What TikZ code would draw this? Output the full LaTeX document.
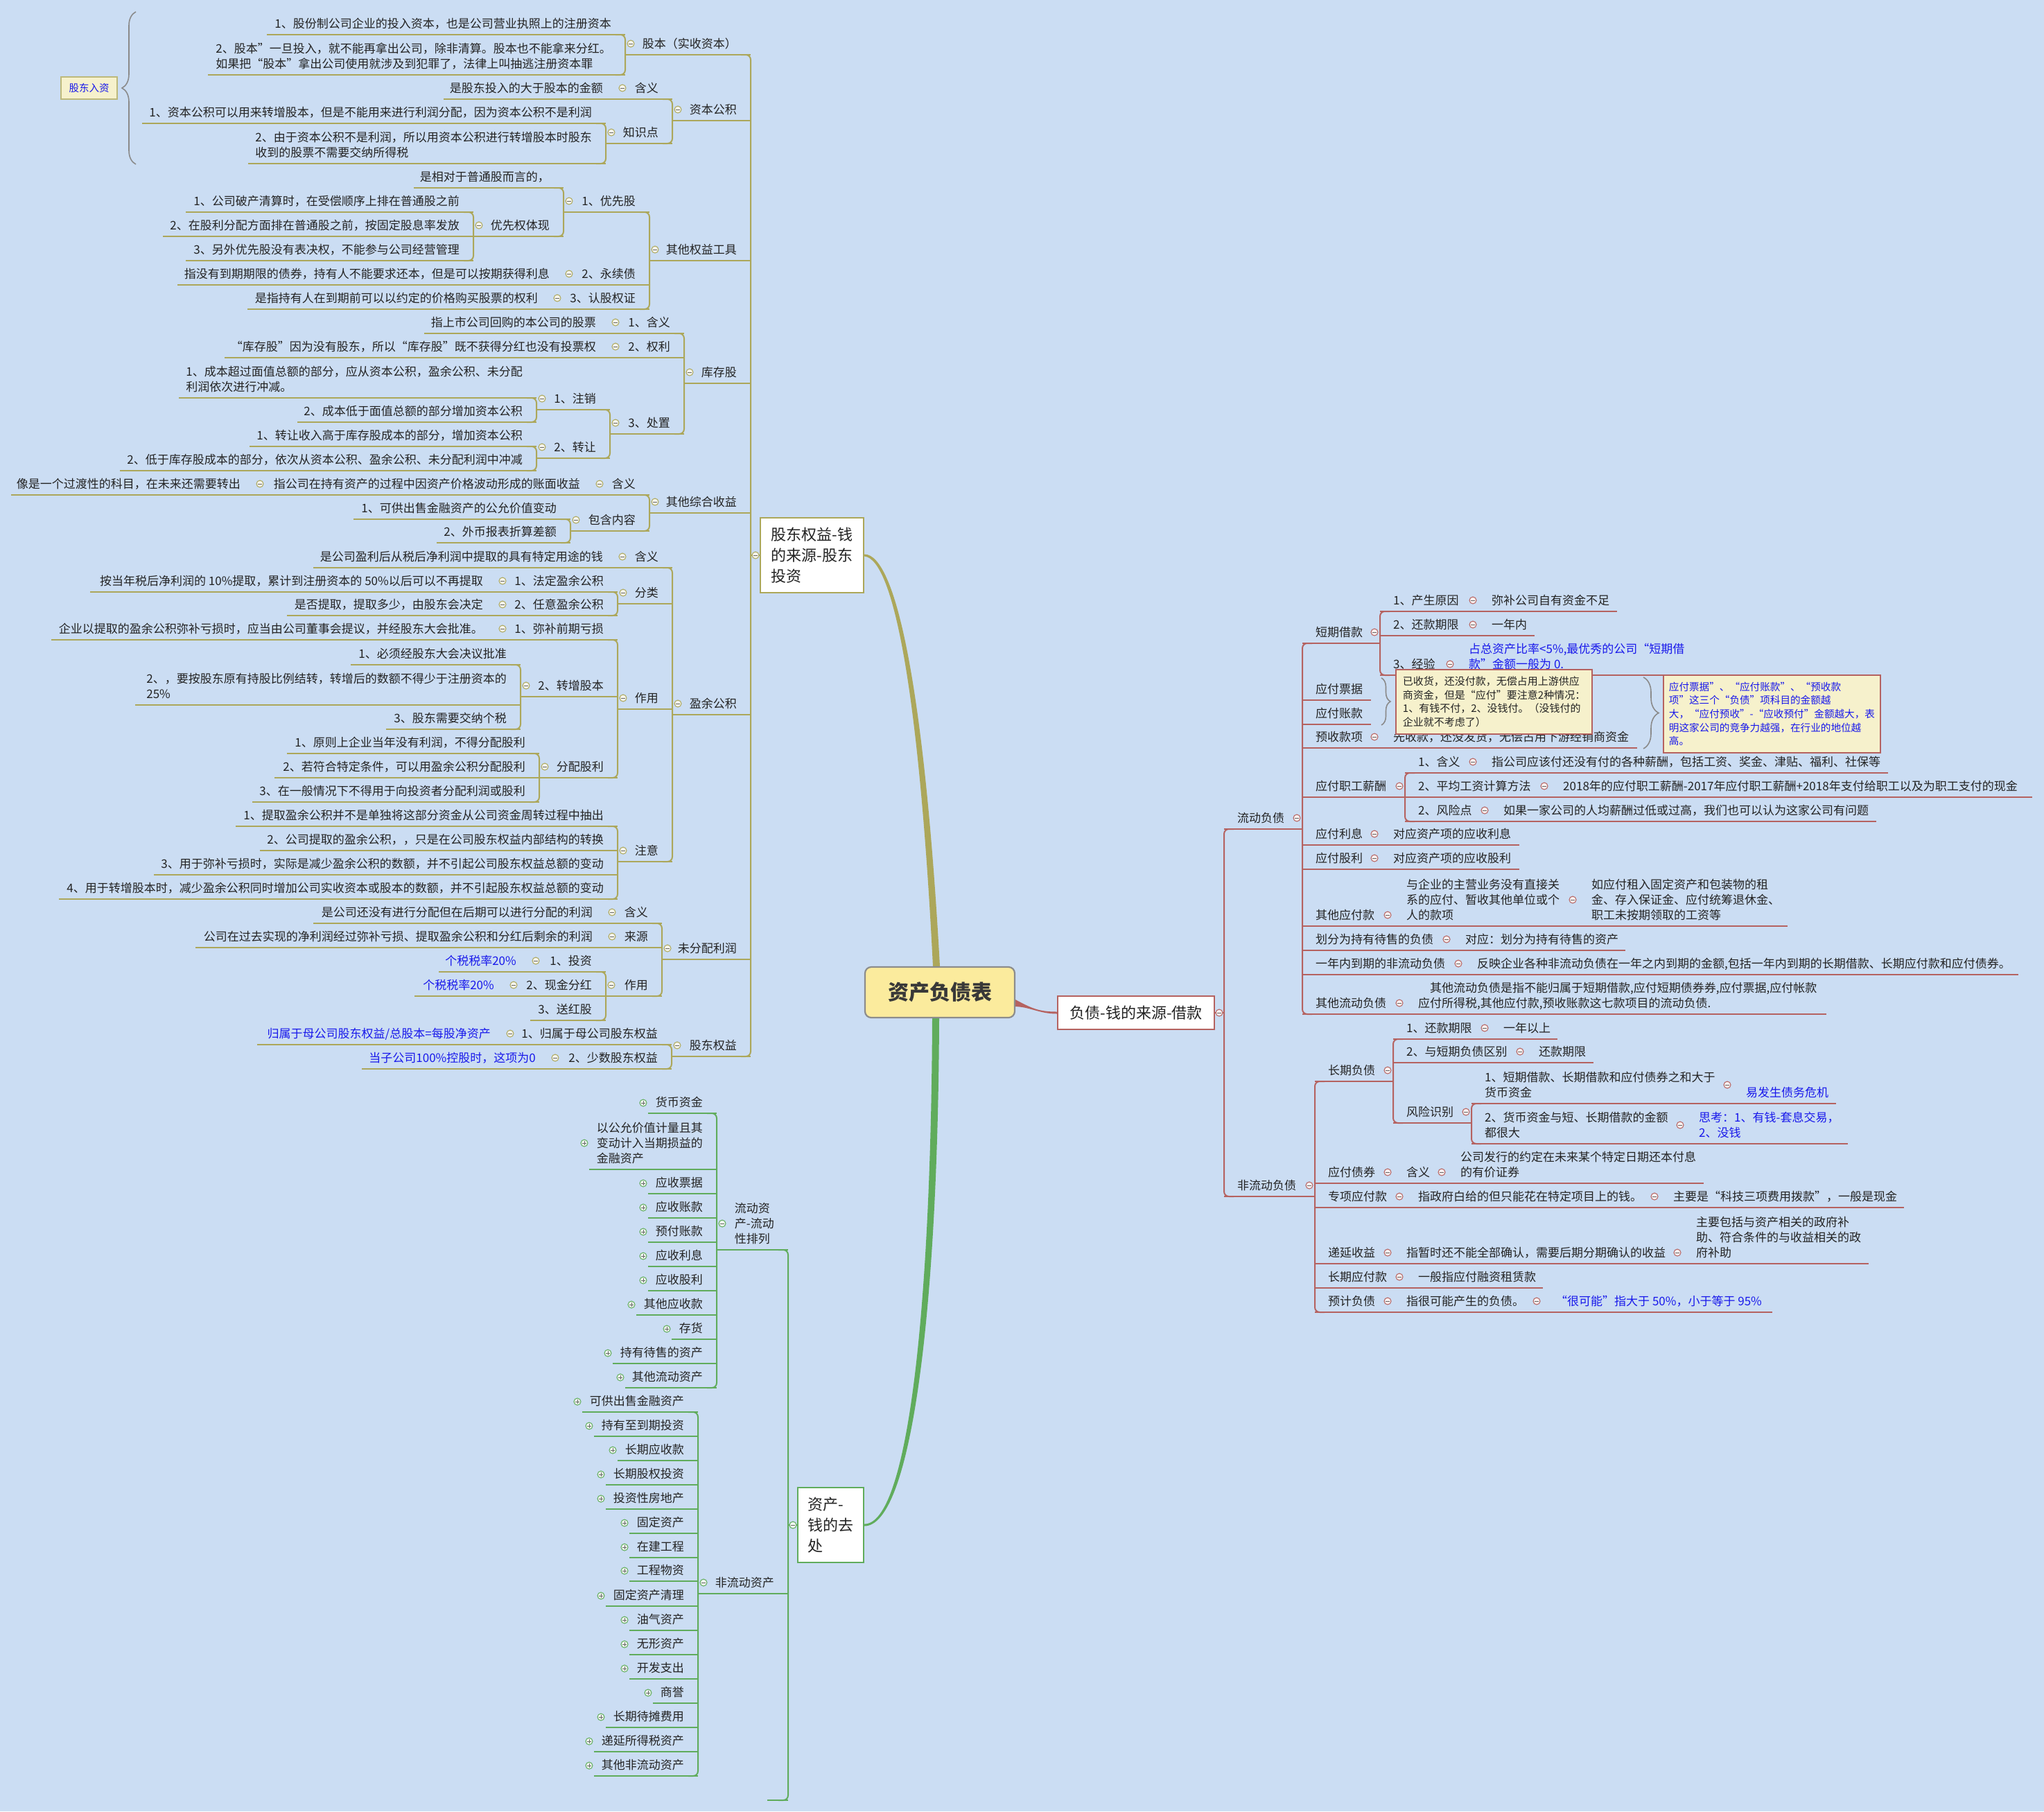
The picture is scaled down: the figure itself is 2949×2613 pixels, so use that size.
\documentclass[tikz,border=0pt]{standalone}
\usepackage{fontspec}
\setmainfont{Noto Sans CJK SC}
\usetikzlibrary{calc,decorations.pathreplacing,backgrounds}

\definecolor{bg}{RGB}{203,221,243}
\definecolor{olv}{RGB}{172,167,90}
\definecolor{rbr}{RGB}{181,98,96}
\definecolor{grn}{RGB}{96,172,92}
\definecolor{ink}{RGB}{35,35,35}
\definecolor{blu}{RGB}{25,25,235}
\definecolor{cream}{RGB}{246,241,204}
\definecolor{gry}{RGB}{138,138,138}
\definecolor{rootfill}{RGB}{251,235,157}

\tikzset{
  tx/.style={inner sep=0pt, align=left, font=\fontsize{17}{22}\selectfont, execute at end node=\strut},
  ul/.style={line width=2pt, draw=olv},
  mk/.style={line width=1pt, draw=olv, fill=olv!12!white},
  mkl/.style={line width=1pt, draw=black!60},
  brc/.style={draw=gry, line width=1.6pt, decorate, decoration={brace, amplitude=#1}},
  topic/.style={draw=#1, fill=white, line width=2.2pt, inner sep=0pt, align=left,
    font=\fontsize{22}{30}\selectfont, text=ink},
  note/.style={fill=cream, draw=rbr, line width=1.8pt, inner xsep=10pt, inner ysep=0pt,
    align=left, anchor=north west, font=\fontsize{15}{19.7}\selectfont},
}

% collapse markers
\newcommand\Mk[2]{\filldraw[mk] (#1,#2) circle[radius=5pt];
  \draw[mkl] (#1-2.6,#2) -- (#1+2.6,#2);}
\newcommand\Mkp[2]{\Mk{#1}{#2}\draw[mkl] (#1,#2-2.6) -- (#1,#2+2.6);}
% topic growing to the left: underline from xL to xR, text right-aligned above it
\newcommand\Lt[6][ink]{%
  \coordinate (#2-l) at (#3,#5);
  \coordinate (#2-r) at (#4,#5);
  \draw[ul] (#2-l) -- (#2-r);
  \node[tx, text=#1, anchor=south east] (#2) at (#4-20,#5-3) {#6};}
\newcommand\Ltm[6][ink]{\Lt[#1]{#2}{#3}{#4}{#5}{#6}\Mk{#3+8}{#5-16}}
% topic growing to the right
\newcommand\Rt[6][ink]{%
  \coordinate (#2-l) at (#3,#5);
  \coordinate (#2-r) at (#4,#5);
  \draw[ul] (#2-l) -- (#2-r);
  \node[tx, text=#1, anchor=south west] (#2) at (#3+19,#5-3) {#6};}
\newcommand\Rtm[6][ink]{\Rt[#1]{#2}{#3}{#4}{#5}{#6}\Mk{#4-8}{#5-16}}
% collapsed leaf (plus marker)
\newcommand\At[5]{\Lt{#1}{#2}{#3}{#4}{#5}\Mkp{#2-7}{#4-15}}
% sibling brackets
\newcommand\Lbr[2]{\draw[ul, rounded corners=7pt] ($(#1)+(-14,0)$) -- (#1) -- (#2) -- ($(#2)+(-14,0)$);}
\newcommand\Rbr[2]{\draw[ul, rounded corners=7pt] ($(#1)+(14,0)$) -- (#1) -- (#2) -- ($(#2)+(14,0)$);}

\begin{document}
\begin{tikzpicture}[x=1pt,y=-1pt]
\useasboundingbox (0,0) rectangle (2949,2613);

% ---------- main topics ----------
\node[draw=black!45, fill=rootfill, rounded corners=9pt, line width=2.2pt, minimum width=216pt,
  minimum height=73pt, inner sep=0pt, font=\fontsize{30}{36}\selectfont\bfseries, text=black!78]
  (root) at (1356,1431.5) {资产负债表};
\node[topic=olv, minimum width=149pt, minimum height=108pt] (eq) at (1171.5,801) {股东权益-钱\\的来源-股东\\投资};
\node[topic=rbr, minimum width=226pt, minimum height=48pt] (fz) at (1639,1461) {负债-钱的来源-借款};
\node[topic=grn, minimum width=95pt, minimum height=108pt] (zc) at (1198.5,2200) {资产-\\钱的去\\处};

\begin{scope}[on background layer]
  \fill[bg] (0,0) rectangle (2949,2613);
  % tapered main branches
  \fill[olv] ($(eq.east)+(0,-1.5)$) .. controls +(46,0) and +(-22,-396) .. ($(root.north)+(0,0)$)
    -- ($(root.north)+(-10,0)$) .. controls +(-20,-396) and +(42,4) .. ($(eq.east)+(0,1.5)$) -- cycle;
  \fill[grn] ($(root.south)+(-1,0)$) .. controls +(-2,437) and +(66,0) .. ($(zc.east)+(0,1.5)$)
    -- ($(zc.east)+(0,-1.5)$) .. controls +(62,0) and +(-2,427) .. ($(root.south)+(-11,0)$) -- cycle;
  \fill[rbr] ($(root.east)+(-2,9.5)$) .. controls +(26,14) and +(-26,0) .. ($(fz.west)+(0,-1.5)$)
    -- ($(fz.west)+(0,1.5)$) .. controls +(-26,0) and +(22,0) .. ($(root.east)+(-2,20.5)$) -- cycle;
\end{scope}

% ================= equity (left) =================
\Ltm{gb}{902}{1083}{79}{股本（实收资本）}
\Lt{gba}{385}{902}{50}{1、股份制公司企业的投入资本，也是公司营业执照上的注册资本}
\Lt{gbb}{300}{902}{108}{2、股本”一旦投入，就不能再拿出公司，除非清算。股本也不能拿来分红。\\如果把“股本”拿出公司使用就涉及到犯罪了，法律上叫抽逃注册资本罪}
\Lbr{gba-r}{gbb-r}

\Ltm{zb}{970}{1083}{174}{资本公积}
\Ltm{zb1}{890}{970}{143}{含义}
\Lt{zb1a}{640}{890}{143}{是股东投入的大于股本的金额}
\Ltm{zb2}{874}{970}{207}{知识点}
\Lt{zb2a}{205}{874}{178}{1、资本公积可以用来转增股本，但是不能用来进行利润分配，因为资本公积不是利润}
\Lt{zb2b}{358}{874}{236}{2、由于资本公积不是利润，所以用资本公积进行转增股本时股东\\收到的股票不需要交纳所得税}
\Lbr{zb2a-r}{zb2b-r}
\Lbr{zb1-r}{zb2-r}

\node[draw=olv!80!white, fill=cream, line width=1.8pt, minimum width=81pt, minimum height=32pt,
  inner sep=0pt, text=blu, font=\fontsize{14.5}{18}\selectfont] (grz) at (128.5,127) {股东入资};
\draw[brc=20pt] (196,237) -- (196,17);

\Ltm{qt}{937}{1083}{376}{其他权益工具}
\Ltm{qt1}{813}{937}{306}{1、优先股}
\Lt{qt1a}{597}{813}{271}{是相对于普通股而言的，}
\Ltm{qt1b}{683}{813}{341}{优先权体现}
\Lt{qt1b1}{268}{683}{306}{1、公司破产清算时，在受偿顺序上排在普通股之前}
\Lt{qt1b2}{235}{683}{341}{2、在股利分配方面排在普通股之前，按固定股息率发放}
\Lt{qt1b3}{268}{683}{376}{3、另外优先股没有表决权，不能参与公司经营管理}
\Lbr{qt1b1-r}{qt1b3-r}
\Lbr{qt1a-r}{qt1b-r}
\Ltm{qt2}{813}{937}{411}{2、永续债}
\Lt{qt2a}{256}{813}{411}{指没有到期期限的债券，持有人不能要求还本，但是可以按期获得利息}
\Ltm{qt3}{796}{937}{446}{3、认股权证}
\Lt{qt3a}{357}{796}{446}{是指持有人在到期前可以以约定的价格购买股票的权利}
\Lbr{qt1-r}{qt3-r}

\Ltm{kc}{987}{1083}{553}{库存股}
\Ltm{kc1}{880}{987}{481}{1、含义}
\Lt{kc1a}{612}{880}{481}{指上市公司回购的本公司的股票}
\Ltm{kc2}{880}{987}{516}{2、权利}
\Lt{kc2a}{324}{880}{516}{“库存股”因为没有股东，所以“库存股”既不获得分红也没有投票权}
\Ltm{kc3}{880}{987}{626}{3、处置}
\Ltm{kc3a}{774}{880}{591}{1、注销}
\Lt{kc3a1}{258}{774}{574}{1、成本超过面值总额的部分，应从资本公积，盈余公积、未分配\\利润依次进行冲减。}
\Lt{kc3a2}{429}{774}{609}{2、成本低于面值总额的部分增加资本公积}
\Lbr{kc3a1-r}{kc3a2-r}
\Ltm{kc3b}{774}{880}{661}{2、转让}
\Lt{kc3b1}{360}{774}{644}{1、转让收入高于库存股成本的部分，增加资本公积}
\Lt{kc3b2}{173}{774}{679}{2、低于库存股成本的部分，依次从资本公积、盈余公积、未分配利润中冲减}
\Lbr{kc3b1-r}{kc3b2-r}
\Lbr{kc3a-r}{kc3b-r}
\Lbr{kc1-r}{kc3-r}

\Ltm{zh}{937}{1083}{740}{其他综合收益}
\Ltm{zh1}{857}{937}{714}{含义}
\Ltm{zh1a}{367}{857}{714}{指公司在持有资产的过程中因资产价格波动形成的账面收益}
\Lt{zh1a1}{16}{367}{714}{像是一个过渡性的科目，在未来还需要转出}
\Ltm{zh2}{823}{937}{766}{包含内容}
\Lt{zh2a}{510}{823}{749}{1、可供出售金融资产的公允价值变动}
\Lt{zh2b}{630}{823}{783}{2、外币报表折算差额}
\Lbr{zh2a-r}{zh2b-r}
\Lbr{zh1-r}{zh2-r}

\Ltm{yy}{970}{1083}{1031}{盈余公积}
\Ltm{yy1}{890}{970}{819}{含义}
\Lt{yy1a}{452}{890}{819}{是公司盈利后从税后净利润中提取的具有特定用途的钱}
\Ltm{yy2}{891}{970}{871}{分类}
\Ltm{yy2a}{717}{891}{854}{1、法定盈余公积}
\Lt{yy2a1}{130}{717}{854}{按当年税后净利润的 10\%提取，累计到注册资本的 50\%以后可以不再提取}
\Ltm{yy2b}{717}{891}{888}{2、任意盈余公积}
\Lt{yy2b1}{414}{717}{888}{是否提取，提取多少，由股东会决定}
\Lbr{yy2a-r}{yy2b-r}
\Ltm{yy3}{891}{970}{1023}{作用}
\Ltm{yy3a}{717}{891}{923}{1、弥补前期亏损}
\Lt{yy3a1}{74}{717}{923}{企业以提取的盈余公积弥补亏损时，应当由公司董事会提议，并经股东大会批准。}
\Ltm{yy3b}{751}{891}{1005}{2、转增股本}
\Lt{yy3b1}{506}{751}{959}{1、必须经股东大会决议批准}
\Lt{yy3b2}{195}{751}{1017}{2、，要按股东原有持股比例结转，转增后的数额不得少于注册资本的\\25\%}
\Lt{yy3b3}{557}{751}{1052}{3、股东需要交纳个税}
\Lbr{yy3b1-r}{yy3b3-r}
\Ltm{yy3c}{778}{891}{1122}{分配股利}
\Lt{yy3c1}{414}{778}{1087}{1、原则上企业当年没有利润，不得分配股利}
\Lt{yy3c2}{396}{778}{1122}{2、若符合特定条件，可以用盈余公积分配股利}
\Lt{yy3c3}{364}{778}{1157}{3、在一般情况下不得用于向投资者分配利润或股利}
\Lbr{yy3c1-r}{yy3c3-r}
\Lbr{yy3a-r}{yy3c-r}
\Ltm{yy4}{891}{970}{1243}{注意}
\Lt{yy4a}{340}{891}{1192}{1、提取盈余公积并不是单独将这部分资金从公司资金周转过程中抽出}
\Lt{yy4b}{375}{891}{1227}{2、公司提取的盈余公积，，只是在公司股东权益内部结构的转换}
\Lt{yy4c}{222}{891}{1262}{3、用于弥补亏损时，实际是减少盈余公积的数额，并不引起公司股东权益总额的变动}
\Lt{yy4d}{85}{891}{1297}{4、用于转增股本时，减少盈余公积同时增加公司实收资本或股本的数额，并不引起股东权益总额的变动}
\Lbr{yy4a-r}{yy4d-r}
\Lbr{yy1-r}{yy4-r}

\Ltm{wf}{955}{1083}{1384}{未分配利润}
\Ltm{wf1}{875}{955}{1332}{含义}
\Lt{wf1a}{452}{875}{1332}{是公司还没有进行分配但在后期可以进行分配的利润}
\Ltm{wf2}{875}{955}{1367}{来源}
\Lt{wf2a}{282}{875}{1367}{公司在过去实现的净利润经过弥补亏损、提取盈余公积和分红后剩余的利润}
\Ltm{wf3}{874}{955}{1437}{作用}
\Ltm{wf3a}{765}{874}{1402}{1、投资}
\Lt[blu]{wf3a1}{633}{765}{1402}{个税税率20\%}
\Ltm{wf3b}{733}{874}{1437}{2、现金分红}
\Lt[blu]{wf3b1}{598}{733}{1437}{个税税率20\%}
\Lt{wf3c}{765}{874}{1472}{3、送红股}
\Lbr{wf3a-r}{wf3c-r}
\Lbr{wf1-r}{wf3-r}

\Ltm{gd}{969}{1083}{1524}{股东权益}
\Ltm{gd1}{728}{969}{1507}{1、归属于母公司股东权益}
\Lt[blu]{gd1a}{371}{728}{1507}{归属于母公司股东权益/总股本=每股净资产}
\Ltm{gd2}{793}{969}{1542}{2、少数股东权益}
\Lt[blu]{gd2a}{522}{793}{1542}{当子公司100\%控股时，这项为0}
\Lbr{gd1-r}{gd2-r}

\Lbr{gb-r}{gd-r}
\draw[ul] (eq.west) -- (gb-r |- eq.west);
\Mk{1090}{801}

% ================= liabilities (right) =================
\begin{scope}[ul/.style={line width=2pt, draw=rbr}, mk/.style={line width=1pt, draw=rbr, fill=rbr!10!white}]
\Rtm{ld}{1766}{1879}{1196}{流动负债}
\Rtm{dq}{1879}{1991}{928}{短期借款}
\Rtm{dq1}{1991}{2133}{882}{1、产生原因}
\Rt{dq1a}{2133}{2333}{882}{弥补公司自有资金不足}
\Rtm{dq2}{1991}{2133}{917}{2、还款期限}
\Rt{dq2a}{2133}{2214}{917}{一年内}
\Rtm{dq3}{1991}{2100}{974}{3、经验}
\Rt[blu]{dq3a}{2100}{2440}{974}{占总资产比率<5\%,最优秀的公司“短期借\\款”金额一般为 0.}
\Rbr{dq1-l}{dq3-l}
\Rt{pj}{1879}{1978}{1010}{应付票据}
\Rt{zk}{1879}{1978}{1045}{应付账款}
\Rtm{ys}{1879}{1991}{1079}{预收款项}
\Rt{ysa}{1991}{2362}{1079}{先收款，还没发货，无偿占用下游经销商资金}
\Rtm{xc}{1879}{2027}{1150}{应付职工薪酬}
\Rtm{xc1}{2027}{2133}{1115}{1、含义}
\Rt{xc1a}{2133}{2724}{1115}{指公司应该付还没有付的各种薪酬，包括工资、奖金、津贴、福利、社保等}
\Rtm{xc2}{2027}{2236}{1150}{2、平均工资计算方法}
\Rt{xc2a}{2236}{2932}{1150}{2018年的应付职工薪酬-2017年应付职工薪酬+2018年支付给职工以及为职工支付的现金}
\Rtm{xc3}{2027}{2150}{1185}{2、风险点}
\Rt{xc3a}{2150}{2707}{1185}{如果一家公司的人均薪酬过低或过高，我们也可以认为这家公司有问题}
\Rbr{xc1-l}{xc3-l}
\Rtm{lx}{1879}{1991}{1219}{应付利息}
\Rt{lxa}{1991}{2192}{1219}{对应资产项的应收利息}
\Rtm{gl}{1879}{1991}{1254}{应付股利}
\Rt{gla}{1991}{2192}{1254}{对应资产项的应收股利}
\Rtm{qy}{1879}{2010}{1336}{其他应付款}
\Rt{qya}{2010}{2277}{1336}{与企业的主营业务没有直接关\\系的应付、暂收其他单位或个\\人的款项}
\Mk{2269}{1298}
\Rt{qya1}{2277}{2579}{1336}{如应付租入固定资产和包装物的租\\金、存入保证金、应付统筹退休金、\\职工未按期领取的工资等}
\Rtm{cs}{1879}{2095}{1371}{划分为持有待售的负债}
\Rt{csa}{2095}{2345}{1371}{对应：划分为持有待售的资产}
\Rtm{yn}{1879}{2112}{1406}{一年内到期的非流动负债}
\Rt{yna}{2112}{2912}{1406}{反映企业各种非流动负债在一年之内到期的金额,包括一年内到期的长期借款、长期应付款和应付债券。}
\Rtm{ql}{1879}{2027}{1463}{其他流动负债}
\Rt{qla}{2027}{2635}{1463}{\hspace*{17pt}其他流动负债是指不能归属于短期借款,应付短期债券券,应付票据,应付帐款\\应付所得税,其他应付款,预收账款这七款项目的流动负债.}
\Rbr{dq-l}{ql-l}

\Rtm{fl}{1766}{1897}{1726}{非流动负债}
\Rtm{cq}{1897}{2010}{1560}{长期负债}
\Rtm{cq1}{2010}{2150}{1499}{1、还款期限}
\Rt{cq1a}{2150}{2247}{1499}{一年以上}
\Rtm{cq2}{2010}{2201}{1533}{2、与短期负债区别}
\Rt{cq2a}{2201}{2299}{1533}{还款期限}
\Rtm{fx}{2010}{2123}{1620}{风险识别}
\Rt{fx1}{2123}{2500}{1592}{1、短期借款、长期借款和应付债券之和大于\\货币资金}
\Mk{2492}{1565}
\Rt[blu]{fx1a}{2500}{2649}{1592}{易发生债务危机}
\Rt{fx2}{2123}{2432}{1650}{2、货币资金与短、长期借款的金额\\都很大}
\Mk{2424}{1623}
\Rt[blu]{fx2a}{2432}{2666}{1650}{思考：1、有钱-套息交易，\\2、没钱}
\Rbr{fx1-l}{fx2-l}
\Rbr{cq1-l}{fx-l}
\Rtm{zq}{1897}{2010}{1707}{应付债券}
\Rtm{zq1}{2010}{2088}{1707}{含义}
\Rt{zq1a}{2088}{2458}{1707}{公司发行的约定在未来某个特定日期还本付息\\的有价证券}
\Rtm{zx}{1897}{2027}{1742}{专项应付款}
\Rtm{zx1}{2027}{2395}{1742}{指政府白给的但只能花在特定项目上的钱。}
\Rt{zx1a}{2395}{2747}{1742}{主要是“科技三项费用拨款”，一般是现金}
\Rtm{dy}{1897}{2010}{1823}{递延收益}
\Rtm{dy1}{2010}{2428}{1823}{指暂时还不能全部确认，需要后期分期确认的收益}
\Rt{dy1a}{2428}{2696}{1823}{主要包括与资产相关的政府补\\助、符合条件的与收益相关的政\\府补助}
\Rtm{cy}{1897}{2027}{1858}{长期应付款}
\Rt{cya}{2027}{2226}{1858}{一般指应付融资租赁款}
\Rtm{yj}{1897}{2010}{1893}{预计负债}
\Rtm{yj1}{2010}{2225}{1893}{指很可能产生的负债。}
\Rt[blu]{yj1a}{2225}{2557}{1893}{“很可能”指大于 50\%，小于等于 95\%}
\Rbr{cq-l}{yj-l}

\Rbr{ld-l}{fl-l}
\draw[ul] (fz.east) -- (ld-l |- fz.east);
\Mk{1759}{1461}

% summaries
\draw[brc=13pt] (1993,978) -- (1993,1046);
\draw[brc=22pt] (2371,977) -- (2371,1080);
\node[note, text=ink, minimum width=279pt, minimum height=93pt] (sm1) at (2013,965)
  {已收货，还没付款，无偿占用上游供应\\商资金，但是“应付”要注意2种情况：\\1、有钱不付，2、没钱付。（没钱付的\\企业就不考虑了）};
\node[note, text=blu, minimum width=310pt, minimum height=112pt, inner xsep=8pt,
  font=\fontsize{14.6}{19.7}\selectfont] (sm2) at (2399,973)
  {应付票据”、“应付账款”、“预收款\\项”这三个“负债”项科目的金额越\\大，“应付预收”-“应收预付”金额越大，表\\明这家公司的竞争力越强，在行业的地位越\\高。};
\end{scope}

% ================= assets (bottom) =================
\begin{scope}[ul/.style={line width=2pt, draw=grn}, mk/.style={line width=1pt, draw=grn, fill=grn!10!white}]
\Lt{ld}{1034}{1137}{1803}{流动资\\产-流动\\性排列}
\Mk{1042}{1765}
\At{a1}{935}{1034}{1606}{货币资金}
\Lt{a2}{850}{1034}{1687}{以公允价值计量且其\\变动计入当期损益的\\金融资产}
\Mkp{843}{1649}
\At{a3}{935}{1034}{1722}{应收票据}
\At{a4}{935}{1034}{1757}{应收账款}
\At{a5}{935}{1034}{1792}{预付账款}
\At{a6}{935}{1034}{1827}{应收利息}
\At{a7}{935}{1034}{1862}{应收股利}
\At{a8}{918}{1034}{1897}{其他应收款}
\At{a9}{969}{1034}{1932}{存货}
\At{a10}{884}{1034}{1967}{持有待售的资产}
\At{a11}{902}{1034}{2002}{其他流动资产}
\Lbr{a1-r}{a11-r}

\Ltm{fa}{1007}{1137}{2299}{非流动资产}
\At{b1}{840}{1007}{2037}{可供出售金融资产}
\At{b2}{857}{1007}{2072}{持有至到期投资}
\At{b3}{891}{1007}{2107}{长期应收款}
\At{b4}{874}{1007}{2142}{长期股权投资}
\At{b5}{874}{1007}{2177}{投资性房地产}
\At{b6}{908}{1007}{2212}{固定资产}
\At{b7}{908}{1007}{2247}{在建工程}
\At{b8}{908}{1007}{2281}{工程物资}
\At{b9}{874}{1007}{2317}{固定资产清理}
\At{b10}{908}{1007}{2352}{油气资产}
\At{b11}{908}{1007}{2387}{无形资产}
\At{b12}{908}{1007}{2422}{开发支出}
\At{b13}{942}{1007}{2457}{商誉}
\At{b14}{874}{1007}{2492}{长期待摊费用}
\At{b15}{857}{1007}{2527}{递延所得税资产}
\At{b16}{857}{1007}{2562}{其他非流动资产}
\Lbr{b1-r}{b16-r}
\Lt{kong}{1107}{1137}{2597}{}

\Lbr{ld-r}{kong-r}
\draw[ul] (zc.west) -- (ld-r |- zc.west);
\Mk{1144}{2200}
\end{scope}
\end{tikzpicture}
\end{document}
